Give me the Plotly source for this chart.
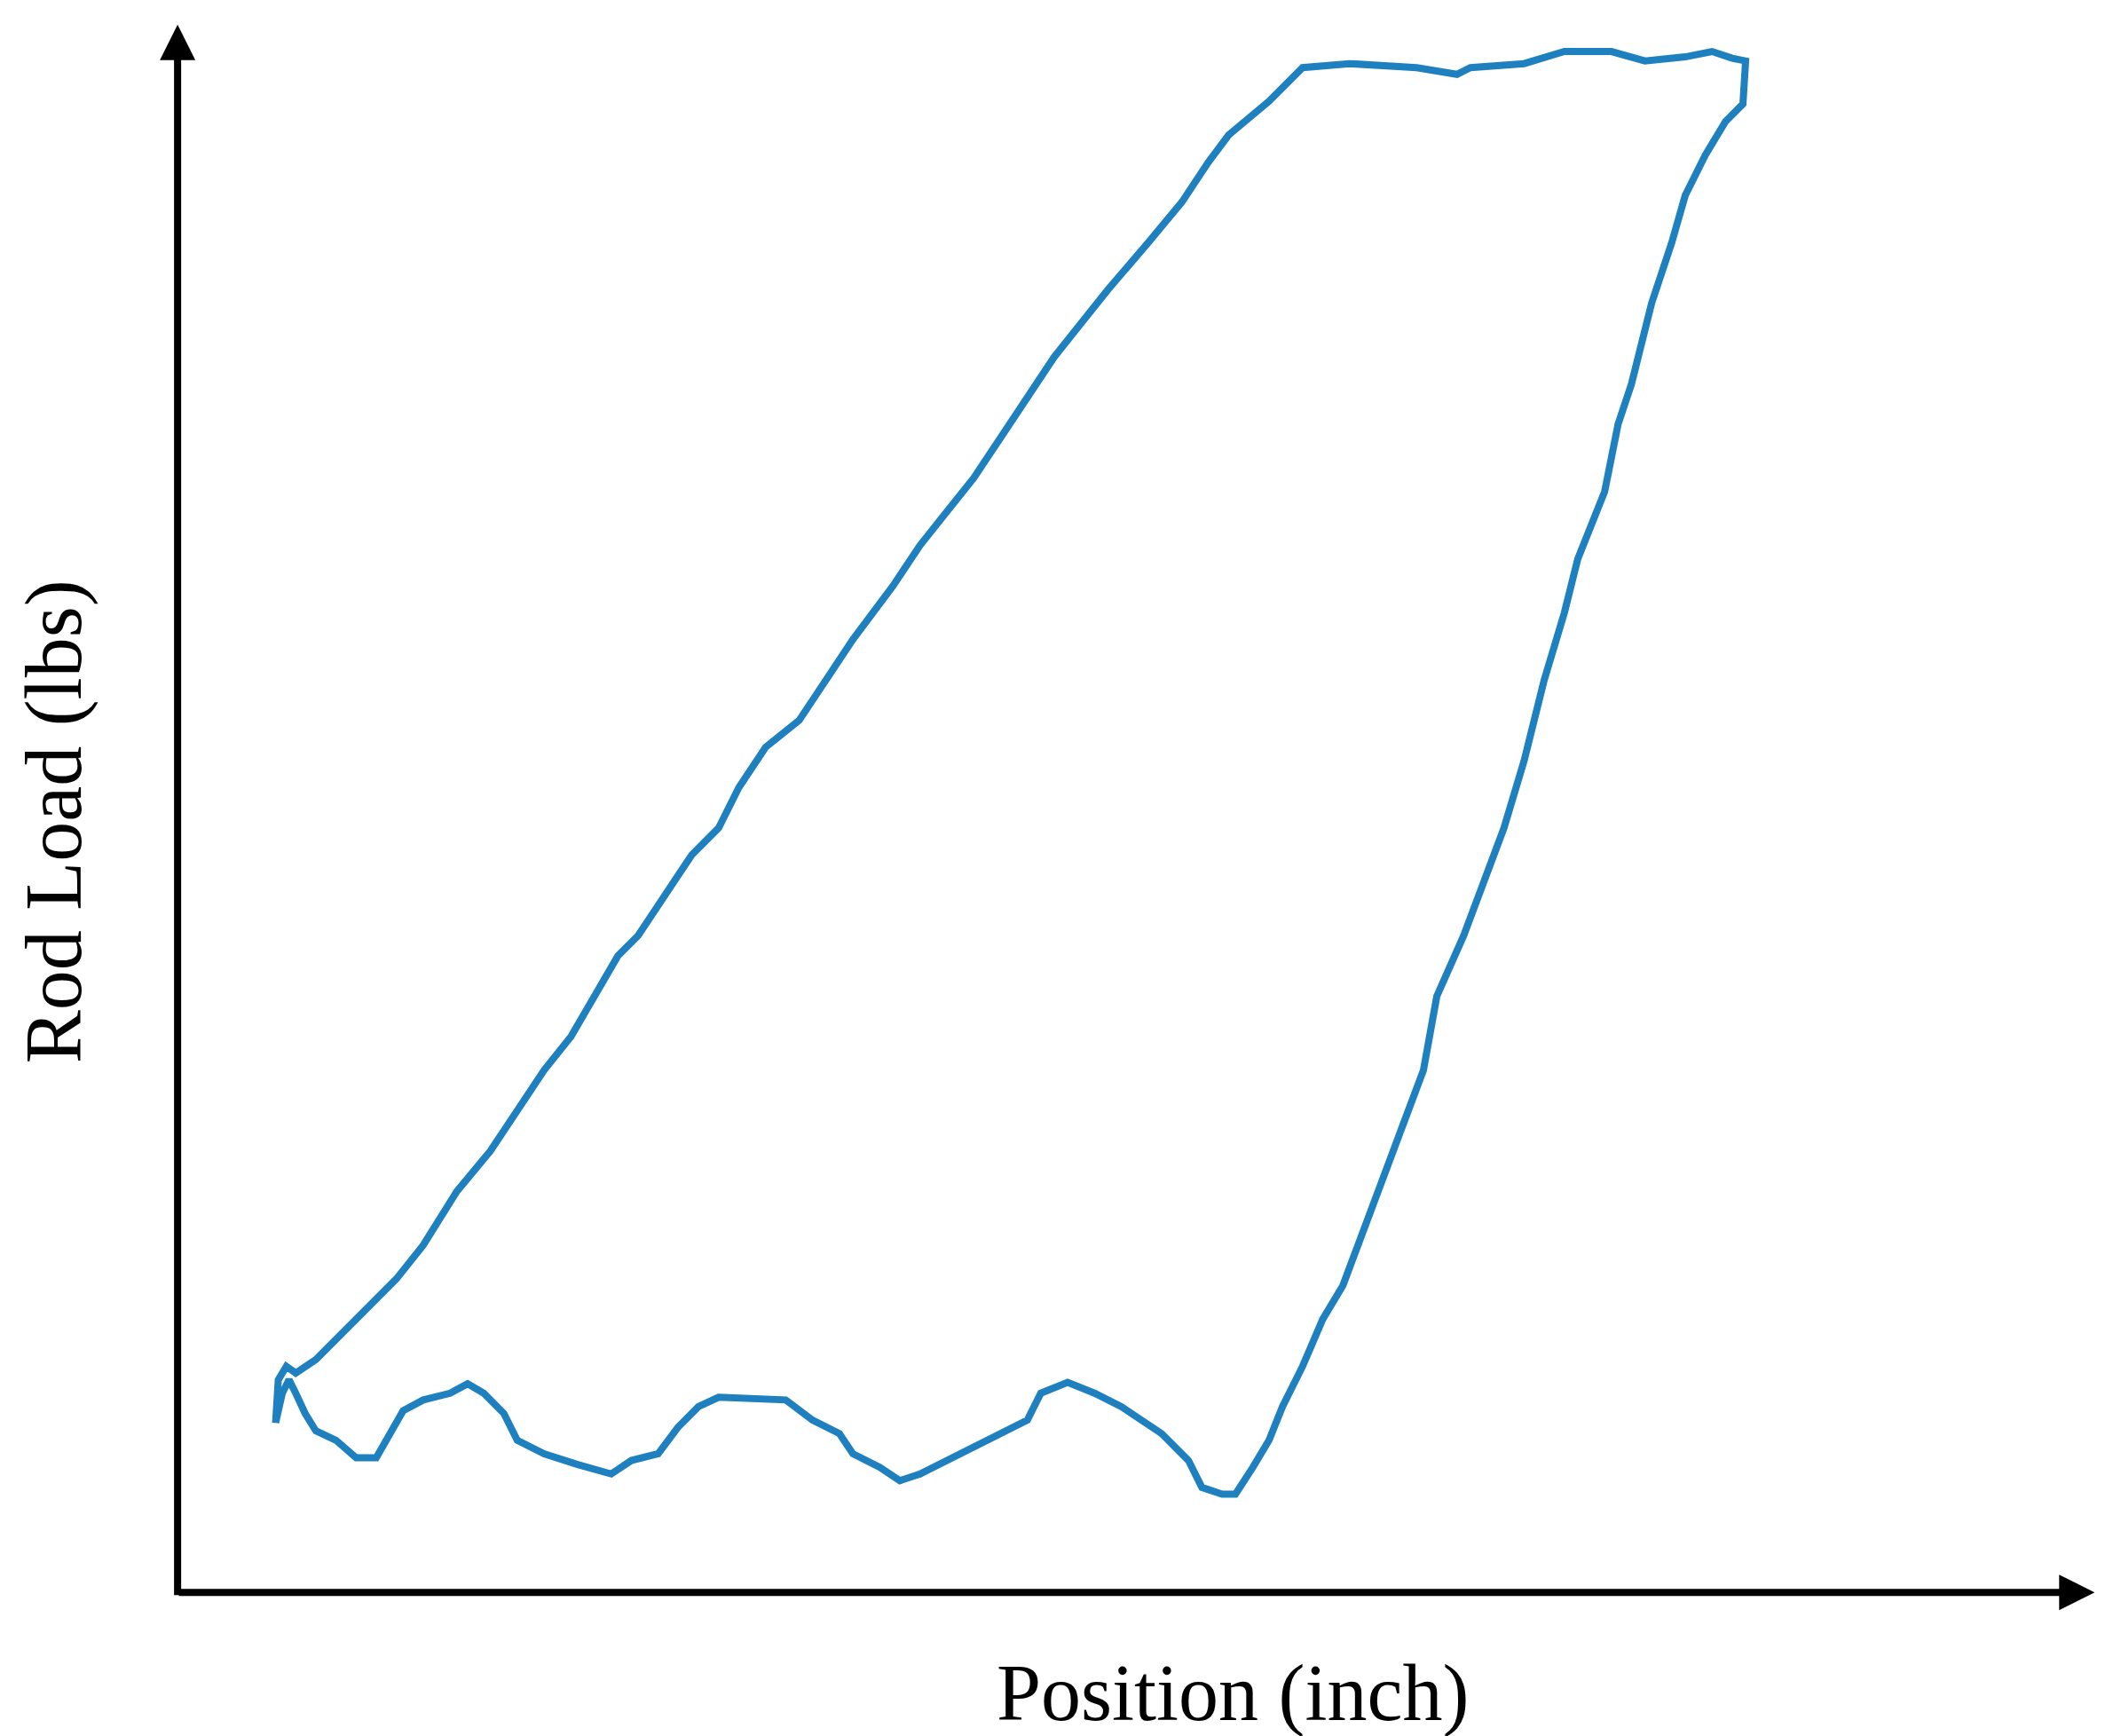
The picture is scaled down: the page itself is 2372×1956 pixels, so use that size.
import plotly.graph_objects as go

# curve (position, load) in arbitrary units
px = [200,202,208,215,230,250,270,290,310,335,360,380,400,420,440,455,470,490,510,530,545,565,590,610,630,660,680,700,720,740,760,780,800,820,850,875,895,910,940,965,1000,1050,1080,1090,1130,1160,1195,1220,1250,1270,1285,1295,1293,1280,1265,1250,1240,1225,1210,1200,1190,1170,1160,1145,1130,1115,1100,1085,1065,1055,1040,1025,1010,995,980,965,950,940,928,915,905,890,880,860,830,810,790,770,760,740,720,700,680,665,650,630,620,600,580,530,515,500,485,465,450,425,400,380,370,355,343,330,310,295,285,275,260,245,230,222,215,210,205,200]
py = [1052,1020,1010,1015,1005,985,965,945,920,880,850,820,790,765,730,705,690,660,630,610,580,550,530,500,470,430,400,375,350,320,290,260,235,210,175,145,115,95,70,45,42,45,50,45,42,33,33,40,37,33,38,40,72,85,110,140,175,220,280,310,360,410,450,500,560,610,650,690,735,790,830,870,910,950,975,1010,1040,1065,1085,1105,1105,1100,1080,1060,1040,1030,1022,1030,1050,1060,1070,1080,1090,1095,1085,1075,1060,1050,1035,1033,1040,1055,1075,1080,1090,1083,1075,1065,1045,1030,1023,1030,1035,1043,1060,1078,1078,1065,1058,1045,1030,1020,1030,1052]
position = [v - 130 for v in px]
load = [1178 - v for v in py]

fig = go.Figure(go.Scatter(x=position, y=load, mode="lines",
                           line=dict(color="#1f80bf", width=8)))
W, H = 2372, 1956
fig.update_layout(width=W, height=H, margin=dict(l=0, r=0, t=0, b=0),
                  plot_bgcolor="white", paper_bgcolor="white", showlegend=False,
                  font=dict(family="Liberation Serif", color="black", size=90))
fig.update_xaxes(range=[-130, 1438], visible=False)
fig.update_yaxes(range=[-112, 1178], visible=False)
# axes arrows
fig.add_annotation(x=1425, y=0, ax=-3, ay=0, xref="x", yref="y", axref="x", ayref="y",
                   showarrow=True, arrowhead=2, arrowsize=1.0, arrowwidth=8, arrowcolor="black", text="")
fig.add_annotation(x=-3, y=1165, ax=-3, ay=-3, xref="x", yref="y", axref="x", ayref="y",
                   showarrow=True, arrowhead=2, arrowsize=1.0, arrowwidth=8, arrowcolor="black", text="")
fig.add_annotation(x=783, y=-75, xref="x", yref="y", text="Position (inch)", showarrow=False)
fig.add_annotation(x=-95, y=573, xref="x", yref="y", text="Rod Load (lbs)", showarrow=False, textangle=-90)
fig.write_html("out.html")
